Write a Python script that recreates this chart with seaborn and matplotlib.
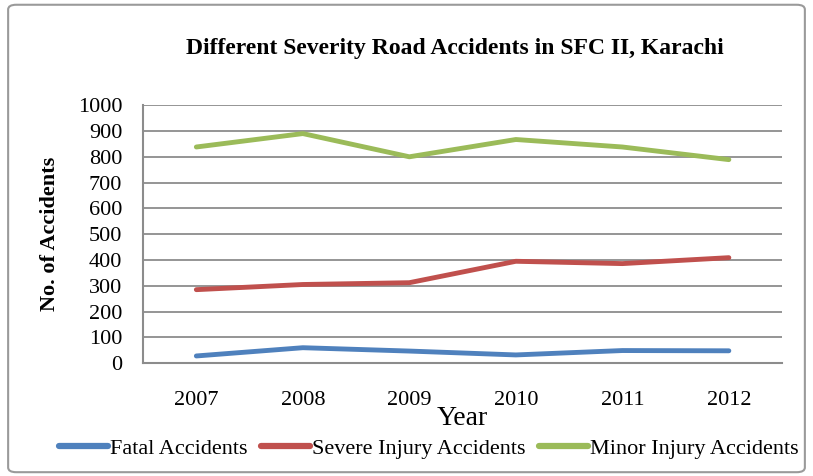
import pandas as pd
import matplotlib.pyplot as plt
import seaborn as sns
from matplotlib.patches import FancyBboxPatch

years = ['2007', '2008', '2009', '2010', '2011', '2012']
fatal = [28, 60, 47, 32, 49, 48]
severe = [285, 305, 312, 395, 386, 409]
minor = [838, 890, 800, 867, 838, 789]
series = ['Fatal Accidents', 'Severe Injury Accidents', 'Minor Injury Accidents']
colors = ['#4f81bd', '#c0504d', '#9bbb59']

df = pd.DataFrame({
    'Year': years * 3,
    'Accidents': fatal + severe + minor,
    'Type': [s for s in series for _ in years],
})

sns.set_style('white')
plt.rcParams['font.family'] = ['Liberation Serif', 'DejaVu Serif']
for k in ['text.color', 'axes.labelcolor', 'xtick.color', 'ytick.color']:
    plt.rcParams[k] = 'black'

fig = plt.figure(figsize=(8.13, 4.76), dpi=100)
fig.patch.set_facecolor('white')
ax = fig.add_axes([0.176, 0.237, 0.786, 0.542])

sns.lineplot(data=df, x='Year', y='Accidents', hue='Type', palette=colors,
             linewidth=3.5, ax=ax, sort=False, solid_capstyle='round')

ax.set_xlim(-0.5, 5.5)
ax.set_ylim(0, 1000)
ax.set_yticks(range(0, 1001, 100))
ax.yaxis.grid(True, color='#8c8c8c', linewidth=1.3)
ax.set_axisbelow(True)
for s in ['top', 'right']:
    ax.spines[s].set_visible(False)
for s in ['left', 'bottom']:
    ax.spines[s].set_color('#8c8c8c')
    ax.spines[s].set_linewidth(1.5)
ax.tick_params(axis='both', length=0, labelsize=16)
ax.tick_params(axis='y', pad=15)
ax.tick_params(axis='x', pad=20)

ax.set_xlabel('Year', fontsize=20)
ax.xaxis.set_label_coords(0.5, -0.165)
ax.set_ylabel('No. of Accidents', fontsize=16, fontweight='bold')
ax.yaxis.set_label_coords(-0.13, 0.5)
fig.text(0.56, 0.899, 'Different Severity Road Accidents in SFC II, Karachi',
         ha='center', va='center', fontsize=17, fontweight='bold')

leg = ax.legend(loc='center', bbox_to_anchor=(0.447, -0.33), ncol=3,
                frameon=False, fontsize=16, handlelength=2.2,
                handletextpad=0.1, columnspacing=0.6)
for h in leg.get_lines():
    h.set_linewidth(4.5)
    h.set_solid_capstyle('round')

fig.patches.append(FancyBboxPatch((0.01, 0.008), 0.98, 0.982,
                                  boxstyle='round,pad=0,rounding_size=0.01',
                                  transform=fig.transFigure, fill=False,
                                  edgecolor='#9a9a9a', linewidth=1.5))

plt.savefig('out.png', dpi=100)
